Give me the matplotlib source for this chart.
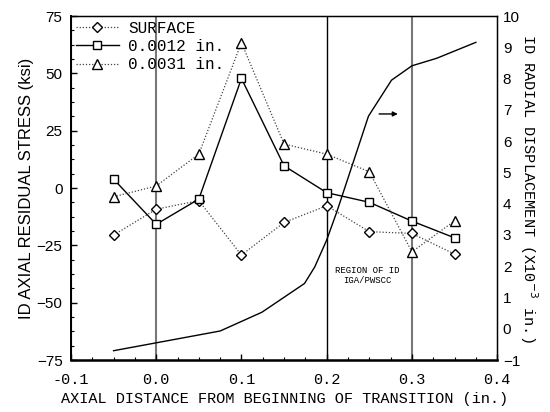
import matplotlib
matplotlib.use("Agg")
import matplotlib.pyplot as plt
from matplotlib.ticker import MultipleLocator

# residual stress measurements (ksi) vs axial distance (in.)
x_pos = [-0.05, 0.0, 0.05, 0.1, 0.15, 0.2, 0.25, 0.3, 0.35]
surface = [-20.5, -9.2, -5.5, -29.2, -15.0, -7.7, -19.0, -19.8, -28.8]
depth_0012 = [3.9, -15.8, -4.8, 47.8, 9.7, -2.0, -6.2, -14.4, -21.7]
depth_0031 = [-3.8, 0.9, 14.8, 63.4, 19.2, 14.8, 7.1, -27.8, -14.3]

# ID radial displacement profile (x10^-3 in.)
disp_x = [-0.05, 0.075, 0.124, 0.174, 0.186, 0.2, 0.212, 0.249, 0.276, 0.30, 0.329, 0.375]
disp_y = [-0.70, -0.07, 0.53, 1.45, 1.98, 2.84, 3.75, 6.8, 7.95, 8.41, 8.65, 9.16]

x_ticks = [-0.1, 0.0, 0.1, 0.2, 0.3, 0.4]
x_ticklabels = ["-0.1", "0.0", "0.1", "0.2", "0.3", "0.4"]

mono = "Liberation Mono"
sans = "Liberation Sans"

fig = plt.figure(figsize=(5.5, 4.12), dpi=100)
ax = fig.add_axes([0.129, 0.126, 0.775, 0.835])

# section markers
ax.axvline(0.0, color="#777777", lw=1.5, zorder=1)
ax.axvline(0.2, color="black", lw=1.0, zorder=1)
ax.axvline(0.3, color="#777777", lw=1.5, zorder=1)

ax.plot(x_pos, surface, ls=(0, (1, 1.5)), color="#444444", lw=0.9, marker="D",
        ms=5, mfc="white", mec="black", mew=1.0, label="SURFACE", zorder=3)
ax.plot(x_pos, depth_0012, ls="-", color="black", lw=1.0, marker="s",
        ms=5.2, mfc="white", mec="black", mew=1.0, label="0.0012 in.", zorder=3)
ax.plot(x_pos, depth_0031, ls=(0, (1, 1.5)), color="#444444", lw=0.9, marker="^",
        ms=6.5, mfc="white", mec="black", mew=1.0, label="0.0031 in.", zorder=3)

ax.set_xlim(-0.1, 0.4)
ax.set_ylim(-75, 75)
ax.set_xticks(x_ticks)
ax.set_xticklabels(x_ticklabels, family=mono, fontsize=11)
ax.set_yticks([-75, -50, -25, 0, 25, 50, 75])
ax.yaxis.set_minor_locator(MultipleLocator(6.25))
ax.xaxis.set_minor_locator(MultipleLocator(0.025))
ax.tick_params(axis="both", which="major", direction="in", length=4, width=1)
ax.tick_params(axis="both", which="minor", direction="in", length=2, width=0.8)
ax.tick_params(axis="y", labelsize=11, pad=6)
ax.tick_params(axis="x", pad=9)
for lbl in ax.get_yticklabels():
    lbl.set_family(sans)
for sp in ax.spines.values():
    sp.set_linewidth(1.0)
ax.spines["bottom"].set_linewidth(1.8)
ax.spines["left"].set_linewidth(1.4)

ax.set_xlabel("AXIAL DISTANCE FROM BEGINNING OF TRANSITION (in.)",
              family=mono, fontsize=11, labelpad=4)
ax.set_ylabel("ID AXIAL RESIDUAL STRESS (ksi)", family=sans, fontsize=12, labelpad=2)

leg = ax.legend(loc="upper left", frameon=False, prop={"family": mono, "size": 11.5},
                handlelength=2.7, handletextpad=0.6, borderaxespad=0.1,
                labelspacing=0.2, borderpad=0.2)

ax.text(0.248, -38, "REGION OF ID\nIGA/PWSCC", family=mono, fontsize=6.5,
        ha="center", va="center", linespacing=1.1)

# displacement on secondary axis
ax2 = ax.twinx()
ax2.plot(disp_x, disp_y, color="black", lw=1.0)
ax2.set_ylim(-1, 10)
ax2.set_yticks(range(-1, 11))
ax2.tick_params(axis="y", direction="in", length=0, labelsize=11, pad=4)
for lbl in ax2.get_yticklabels():
    lbl.set_family(sans)
ax2.annotate("", xy=(0.2834, 6.87), xytext=(0.2615, 6.87),
             arrowprops=dict(arrowstyle="-|>", color="black", lw=1.0,
                             mutation_scale=7, shrinkA=0, shrinkB=0))
ax2.set_ylabel("ID RADIAL DISPLACEMENT (X10$^{-3}$ in.)", family=mono, fontsize=11,
               rotation=-90, labelpad=14)

fig.savefig("out.png", dpi=100)
